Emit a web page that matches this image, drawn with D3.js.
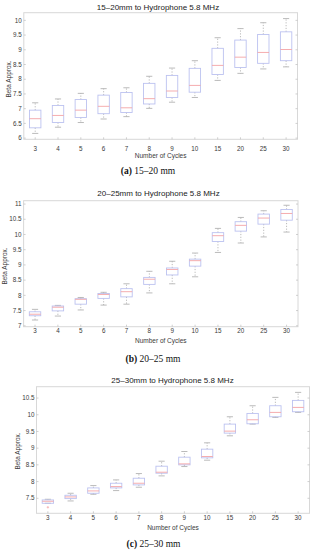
<!DOCTYPE html>
<html><head><meta charset="utf-8">
<script src="https://cdn.jsdelivr.net/npm/d3@7"></script>
<style>html,body{margin:0;padding:0;background:#fff;}svg{display:block;}</style>
</head><body>
<svg id="c" width="312" height="550"></svg>
<script>
const cycles = ["3","4","5","6","7","8","9","10","15","20","25","30"];

const lowA  = [6.16,6.37,6.53,6.65,6.73,7.01,7.22,7.38,7.96,8.20,8.35,8.42];
const q1A   = [6.35,6.53,6.70,6.83,6.87,7.16,7.38,7.56,8.16,8.40,8.54,8.63];
const medA  = [6.66,6.77,6.95,7.08,7.03,7.34,7.60,7.79,8.47,8.75,8.91,9.01];
const q3A   = [6.95,7.11,7.31,7.46,7.55,7.86,8.13,8.37,9.05,9.33,9.52,9.61];
const highA = [7.20,7.33,7.52,7.68,7.71,8.10,8.38,8.63,9.41,9.72,9.92,10.06];
const ticksA = [6,6.5,7,7.5,8,8.5,9,9.5,10];

const lowB  = [7.19,7.32,7.52,7.68,7.71,8.08,8.38,8.61,9.41,9.72,9.92,10.08];
const q1B   = [7.33,7.49,7.71,7.90,7.95,8.36,8.67,8.96,9.77,10.11,10.34,10.47];
const medB  = [7.38,7.61,7.87,8.03,8.12,8.53,8.85,9.14,9.96,10.30,10.54,10.69];
const q3B   = [7.46,7.65,7.89,8.06,8.22,8.59,8.90,9.19,10.06,10.42,10.67,10.82];
const highB = [7.54,7.67,7.93,8.10,8.38,8.79,9.12,9.39,10.20,10.56,10.78,10.96];
const ticksB = [7,7.5,8,8.5,9,9.5,10,10.5,11];

const lowC  = [7.35,7.42,7.62,7.73,7.83,8.17,8.45,8.64,9.37,9.72,9.92,10.07];
const q1C   = [7.35,7.49,7.65,7.81,7.90,8.25,8.50,8.71,9.45,9.73,9.94,10.09];
const medC  = [7.41,7.54,7.72,7.85,7.95,8.28,8.53,8.75,9.51,9.85,10.07,10.22];
const q3C   = [7.45,7.59,7.81,7.95,8.10,8.46,8.73,8.97,9.72,10.04,10.27,10.43];
const highC = [7.47,7.65,7.88,8.05,8.24,8.61,8.90,9.16,9.94,10.27,10.52,10.67];
const outC  = [{c:"3", v:7.23}];
const ticksC = [7.5,8,8.5,9,9.5,10,10.5];

const titles = ["15\u201320mm to Hydrophone 5.8 MHz","20\u201325mm to Hydrophone 5.8 MHz","25\u201330mm to Hydrophone 5.8 MHz"];
const capLetters = ["(a)","(b)","(c)"];
const capTexts = [" 15\u201320 mm"," 20\u201325 mm"," 25\u201330 mm"];

const svg = d3.select("#c");
const SANS = "'Liberation Sans', Arial, sans-serif";
const SERIF = "'Liberation Serif', 'Times New Roman', serif";

const panels = [
  {low:lowA,q1:q1A,med:medA,q3:q3A,high:highA,ticks:ticksA,out:[],
   x0:23.8,x1:297.5,y0:139.3,y1:12.7,dom:[5.96,10.26],
   titleY:10,tickY:150.5,xlabY:157.5,capY:174,capX:148,ylabX:11,ylabY:79,titleX:158},
  {low:lowB,q1:q1B,med:medB,q3:q3B,high:highB,ticks:ticksB,out:[],
   x0:23.6,x1:298,y0:326.7,y1:200.7,dom:[6.97,11.11],
   titleY:196,tickY:333,xlabY:342.5,capY:361.5,capX:153,ylabX:6.5,ylabY:266,titleX:158.5},
  {low:lowC,q1:q1C,med:medC,q3:q3C,high:highC,ticks:ticksC,out:outC,
   x0:36.5,x1:309.5,y0:513.3,y1:386.7,dom:[7.05,10.84],
   titleY:383,tickY:520,xlabY:529.5,capY:546.5,capX:153.5,ylabX:19.5,ylabY:451,titleX:172.5}
];

panels.forEach((p,i)=>{
  const g = svg.append("g");
  const x = d3.scaleBand().domain(cycles).range([p.x0,p.x1]).paddingInner(0).paddingOuter(0);
  const y = d3.scaleLinear().domain(p.dom).range([p.y0,p.y1]);
  const bw = x.bandwidth()*0.5;
  const cw = x.bandwidth()*0.27;
  const cx = c => x(c)+x.bandwidth()/2;

  g.append("rect").attr("x",p.x0).attr("y",p.y1).attr("width",p.x1-p.x0).attr("height",p.y0-p.y1)
    .attr("fill","none").attr("stroke","#d8d8d8").attr("stroke-width",1);

  p.ticks.forEach(t=>{
    const yy = y(t);
    g.append("line").attr("x1",p.x0).attr("x2",p.x0+2).attr("y1",yy).attr("y2",yy).attr("stroke","#bbb").attr("stroke-width",0.7);
    g.append("line").attr("x1",p.x1).attr("x2",p.x1-2).attr("y1",yy).attr("y2",yy).attr("stroke","#bbb").attr("stroke-width",0.7);
    g.append("text").attr("x",p.x0-2).attr("y",yy).attr("dy","0.35em").attr("text-anchor","end")
      .attr("font-family",SANS).attr("font-size","6.3px").attr("fill","#3a3a3a").text(String(t));
  });
  cycles.forEach(c=>{
    g.append("line").attr("x1",cx(c)).attr("x2",cx(c)).attr("y1",p.y0).attr("y2",p.y0-2).attr("stroke","#bbb").attr("stroke-width",0.7);
    g.append("text").attr("x",cx(c)).attr("y",p.tickY).attr("text-anchor","middle")
      .attr("font-family",SANS).attr("font-size","6.3px").attr("fill","#3a3a3a").text(c);
  });

  const data = cycles.map((c,k)=>({c,lo:p.low[k],q1:p.q1[k],md:p.med[k],q3:p.q3[k],hi:p.high[k]}));
  const b = g.selectAll("g.box").data(data).join("g").attr("class","box");
  b.append("line").attr("x1",d=>cx(d.c)).attr("x2",d=>cx(d.c)).attr("y1",d=>y(d.q3)).attr("y2",d=>y(d.hi))
    .attr("stroke","#aaa").attr("stroke-width",0.8).attr("stroke-dasharray","1.2,1.6");
  b.append("line").attr("x1",d=>cx(d.c)).attr("x2",d=>cx(d.c)).attr("y1",d=>y(d.q1)).attr("y2",d=>y(d.lo))
    .attr("stroke","#aaa").attr("stroke-width",0.8).attr("stroke-dasharray","1.2,1.6");
  b.append("line").attr("x1",d=>cx(d.c)-cw/2).attr("x2",d=>cx(d.c)+cw/2).attr("y1",d=>y(d.hi)).attr("y2",d=>y(d.hi))
    .attr("stroke","#aaa").attr("stroke-width",0.8);
  b.append("line").attr("x1",d=>cx(d.c)-cw/2).attr("x2",d=>cx(d.c)+cw/2).attr("y1",d=>y(d.lo)).attr("y2",d=>y(d.lo))
    .attr("stroke","#aaa").attr("stroke-width",0.8);
  b.append("rect").attr("x",d=>cx(d.c)-bw/2).attr("width",bw).attr("y",d=>y(d.q3)).attr("height",d=>Math.max(0.5,y(d.q1)-y(d.q3)))
    .attr("fill","none").attr("stroke","#bcc2f0").attr("stroke-width",0.9);
  b.append("line").attr("x1",d=>cx(d.c)-bw/2).attr("x2",d=>cx(d.c)+bw/2).attr("y1",d=>y(d.md)).attr("y2",d=>y(d.md))
    .attr("stroke","#f4a4a6").attr("stroke-width",0.9);
  g.selectAll("g.out").data(p.out).join("g").attr("class","out").each(function(d){
    const s = d3.select(this), xx = cx(d.c), yy = y(d.v);
    s.append("line").attr("x1",xx-1.2).attr("x2",xx+1.2).attr("y1",yy).attr("y2",yy).attr("stroke","#f4a4a6").attr("stroke-width",0.7);
    s.append("line").attr("x1",xx).attr("x2",xx).attr("y1",yy-1.2).attr("y2",yy+1.2).attr("stroke","#f4a4a6").attr("stroke-width",0.7);
  });

  g.append("text").attr("x",p.titleX).attr("y",p.titleY).attr("text-anchor","middle")
    .attr("font-family",SANS).attr("font-size","8px").attr("fill","#222").text(titles[i]);
  g.append("text").attr("x",(p.x0+p.x1)/2).attr("y",p.xlabY).attr("text-anchor","middle")
    .attr("font-family",SANS).attr("font-size","6.5px").attr("fill","#3a3a3a").text("Number of Cycles");
  g.append("text").attr("transform",`translate(${p.ylabX},${p.ylabY}) rotate(-90)`).attr("text-anchor","middle")
    .attr("font-family",SANS).attr("font-size","6.5px").attr("fill","#3a3a3a").text("Beta Approx.");
  const cap = g.append("text").attr("x",p.capX).attr("y",p.capY).attr("text-anchor","middle")
    .attr("font-family",SERIF).attr("font-size","9.5px").attr("fill","#111");
  cap.append("tspan").attr("font-weight","bold").text(capLetters[i]);
  cap.append("tspan").text(capTexts[i]);
});
</script>
</body></html>
